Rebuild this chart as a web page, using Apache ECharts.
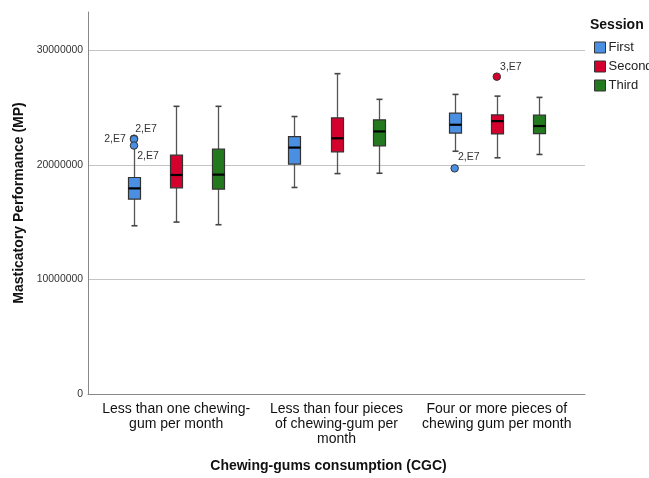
<!DOCTYPE html>
<html>
<head>
<meta charset="utf-8">
<script src="https://cdn.jsdelivr.net/npm/echarts@6/dist/echarts.min.js"></script>
<style>html,body{margin:0;padding:0;background:#fff}#c{width:649px;height:478px}</style>
</head>
<body>
<div id="c"></div>
<script>
// ---- data ----
const categories = [
  'Less than one chewing-\ngum per month',
  'Less than four pieces\nof chewing-gum per\nmonth',
  'Four or more pieces of\nchewing gum per month'
];
const sessions = ['First', 'Second', 'Third'];
const sessionColors = ['#4A8FE2', '#D4002E', '#237A1E'];
const yTicks = [0, 10000000, 20000000, 30000000];
// [low whisker, Q1, median, Q3, high whisker] per category
const firstBox = [
  [14680000, 17010000, 17940000, 18890000, 21600000],
  [18020000, 20060000, 21500000, 22450000, 24210000],
  [21180000, 22770000, 23490000, 24500000, 26140000]
];
const secondBox = [
  [15000000, 17990000, 19110000, 20840000, 25100000],
  [19230000, 21130000, 22310000, 24090000, 27950000],
  [20610000, 22690000, 23810000, 24350000, 25990000]
];
const thirdBox = [
  [14770000, 17880000, 19140000, 21360000, 25100000],
  [19260000, 21650000, 22910000, 23920000, 25710000],
  [20900000, 22710000, 23380000, 24330000, 25880000]
];
// outliers: [category index, value, label]
const firstOutliers = [[0, 22280000, '2,E7'], [0, 22230000, '2,E7'], [0, 21680000, '2,E7'], [2, 19690000, '2,E7']];
const secondOutliers = [[2, 27690000, '3,E7']];
const thirdOutliers = [];

// ---- chart ----
const boxes = [firstBox, secondBox, thirdBox];
const outliers = [firstOutliers, secondOutliers, thirdOutliers];
const OFFSETS = [-0.263, 0, 0.263];
const BOX_W = 12, CAP_W = 6;

// label placement for each outlier (style only)
const outlierLabelStyles = [
  [
    {position: 'right', offset: [-8, -10]},
    {position: 'left', distance: 3, offset: [-1, 0]},
    {position: 'right', offset: [-6, 11]},
    {position: 'right', offset: [-6, -11]}
  ],
  [{position: 'right', offset: [-6, -10]}],
  []
];

const chart = echarts.init(document.getElementById('c'), null, {renderer: 'canvas'});

function makeBoxSeries(s) {
  return {
    type: 'custom',
    name: sessions[s],
    color: sessionColors[s],
    z: 3,
    data: boxes[s].map((b, i) => [i].concat(b)),
    renderItem: function (params, api) {
      const x = api.value(0) + OFFSETS[s];
      const lo = api.coord([x, api.value(1)]);
      const q1 = api.coord([x, api.value(2)]);
      const md = api.coord([x, api.value(3)]);
      const q3 = api.coord([x, api.value(4)]);
      const hi = api.coord([x, api.value(5)]);
      const cx = Math.round(lo[0]) + 0.5;
      const ws = {stroke: '#555', lineWidth: 1.3};
      return {
        type: 'group',
        children: [
          {type: 'line', shape: {x1: cx, y1: lo[1], x2: cx, y2: q1[1]}, style: ws},
          {type: 'line', shape: {x1: cx, y1: q3[1], x2: cx, y2: hi[1]}, style: ws},
          {type: 'line', shape: {x1: cx - CAP_W / 2, y1: lo[1], x2: cx + CAP_W / 2, y2: lo[1]}, style: {stroke: '#444', lineWidth: 1.6}},
          {type: 'line', shape: {x1: cx - CAP_W / 2, y1: hi[1], x2: cx + CAP_W / 2, y2: hi[1]}, style: {stroke: '#444', lineWidth: 1.6}},
          {type: 'rect', shape: {x: cx - BOX_W / 2, y: q3[1], width: BOX_W, height: q1[1] - q3[1]},
            style: {fill: sessionColors[s], stroke: '#333', lineWidth: 1.2}},
          {type: 'line', shape: {x1: cx - BOX_W / 2, y1: md[1], x2: cx + BOX_W / 2, y2: md[1]}, style: {stroke: '#000', lineWidth: 2.2}}
        ]
      };
    }
  };
}

function makeOutlierSeries(s) {
  return {
    type: 'scatter',
    name: sessions[s],
    z: 5,
    symbol: 'circle',
    symbolSize: 7.5,
    itemStyle: {color: sessionColors[s], borderColor: '#333', borderWidth: 1, opacity: 1},
    data: outliers[s].map((o, k) => ({
      value: [o[0] + OFFSETS[s], o[1]],
      label: Object.assign({
        show: true,
        formatter: o[2],
        fontSize: 10.5,
        color: '#333',
        fontFamily: 'Liberation Sans, Arial, sans-serif'
      }, outlierLabelStyles[s][k] || {position: 'right'})
    }))
  };
}

const series = [];
for (let s = 0; s < 3; s++) series.push(makeBoxSeries(s));
for (let s = 0; s < 3; s++) series.push(makeOutlierSeries(s));

chart.setOption({
  animation: false,
  backgroundColor: '#fff',
  textStyle: {fontFamily: 'Liberation Sans, Arial, sans-serif'},
  title: {
    text: 'Session',
    left: 590,
    top: 18,
    textStyle: {fontSize: 14, fontWeight: 'bold', color: '#111', fontFamily: 'Liberation Sans, Arial, sans-serif'},
    padding: 0
  },
  legend: {
    orient: 'vertical',
    left: 594,
    top: 41,
    padding: 0,
    itemWidth: 11,
    itemHeight: 11,
    itemGap: 6,
    icon: 'rect',
    selectedMode: false,
    itemStyle: {borderColor: '#333', borderWidth: 1},
    textStyle: {fontSize: 13, color: '#222', padding: [0, 0, 0, -2]},
    data: sessions.map((n, i) => ({name: n, itemStyle: {color: sessionColors[i]}}))
  },
  grid: {left: 88, right: 64, top: 12, bottom: 80, containLabel: false},
  xAxis: {
    type: 'value',
    min: -0.55,
    max: 2.55,
    name: 'Chewing-gums consumption (CGC)',
    nameLocation: 'middle',
    nameGap: 65,
    nameTextStyle: {fontSize: 14, fontWeight: 'bold', color: '#111', padding: [0, 16, 0, 0]},
    axisLine: {show: true, onZero: false, lineStyle: {color: '#888', width: 1}},
    axisTick: {show: false},
    splitLine: {show: false},
    axisLabel: {
      customValues: [0, 1, 2],
      formatter: v => categories[Math.round(v)],
      fontSize: 14,
      lineHeight: 15,
      color: '#111',
      margin: 8
    }
  },
  yAxis: {
    type: 'value',
    min: 0,
    max: 33330000,
    interval: 10000000,
    name: 'Masticatory Performance (MP)',
    nameLocation: 'middle',
    nameGap: 62,
    nameTextStyle: {fontSize: 14, fontWeight: 'bold', color: '#111'},
    axisLine: {show: true, onZero: false, lineStyle: {color: '#888', width: 1}},
    axisTick: {show: false},
    splitLine: {show: true, showMaxLine: false, showMinLine: false, lineStyle: {color: '#c4c4c4', width: 1}},
    axisLabel: {
      customValues: yTicks,
      formatter: v => String(v),
      fontSize: 10.4,
      color: '#333',
      margin: 5
    }
  },
  series: series
});
</script>
</body>
</html>
